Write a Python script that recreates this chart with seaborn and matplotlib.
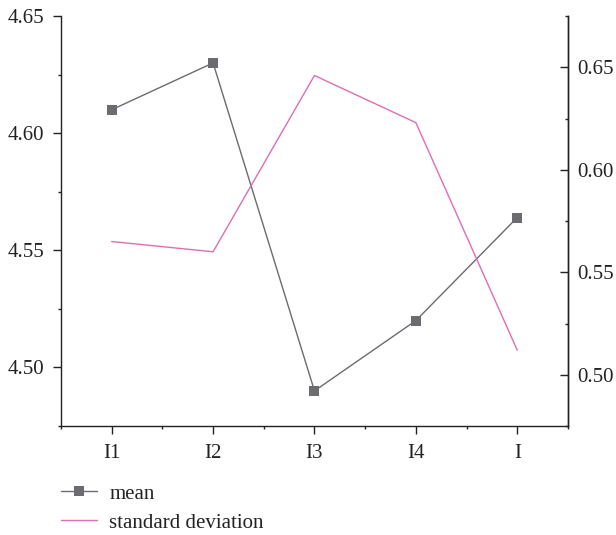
import matplotlib
matplotlib.use('Agg')
import matplotlib.pyplot as plt
import pandas as pd
import seaborn as sns
from matplotlib.ticker import MultipleLocator, FormatStrFormatter

# Data
items = ['I1', 'I2', 'I3', 'I4', 'I']
mean_vals = [4.610, 4.630, 4.490, 4.520, 4.564]
sd_vals = [0.565, 0.560, 0.646, 0.623, 0.512]

sns.set_theme(style='ticks')
plt.rcParams['font.family'] = ['Liberation Serif', 'DejaVu Serif']
plt.rcParams['font.size'] = 15

df = pd.DataFrame({'item': items, 'mean': mean_vals, 'sd': sd_vals})
df['pos'] = range(len(items))

fig = plt.figure(figsize=(6.16, 5.35), dpi=100)
ax = fig.add_axes([0.099, 0.2037, 0.823, 0.7663])
ax2 = ax.twinx()

sns.lineplot(data=df, x='pos', y='mean', ax=ax, color='#6b6b70', lw=1.0,
             marker='s', markersize=7, markeredgewidth=0, label='mean', legend=False)
sns.lineplot(data=df, x='pos', y='sd', ax=ax2, color='#dd6eb5', lw=1.0,
             label='standard deviation', legend=False)

ax.set_xlim(-0.5, len(items) - 0.5)
ax.set_xticks(df['pos'])
ax.set_xticklabels(items)
ax.xaxis.set_minor_locator(MultipleLocator(0.5))
ax.set_ylim(4.475, 4.65)
ax.yaxis.set_major_locator(MultipleLocator(0.05))
ax.yaxis.set_minor_locator(MultipleLocator(0.025))
ax.yaxis.set_major_formatter(FormatStrFormatter('%.2f'))
ax2.set_ylim(0.475, 0.675)
ax2.yaxis.set_major_locator(MultipleLocator(0.05))
ax2.yaxis.set_minor_locator(MultipleLocator(0.025))
ax2.yaxis.set_major_formatter(FormatStrFormatter('%.2f'))

for a in (ax, ax2):
    a.set_xlabel('')
    a.set_ylabel('')
    a.spines['top'].set_visible(False)
    for s in a.spines.values():
        s.set_color('#222222')
        s.set_linewidth(1.0)
    a.tick_params(which='major', length=6, width=1.0, color='#222222',
                  labelsize=15, labelcolor='#222222')
    a.tick_params(which='minor', length=2.5, width=1.0, color='#222222')
ax.tick_params(axis='y', which='major', pad=6)
ax.tick_params(axis='x', which='major', pad=7)
ax2.tick_params(axis='y', which='both', direction='in')
ax2.tick_params(axis='y', which='major', pad=7)
ax2.spines['left'].set_visible(False)
ax2.spines['bottom'].set_visible(False)

h1, l1 = ax.get_legend_handles_labels()
h2, l2 = ax2.get_legend_handles_labels()
fig.legend(h1 + h2, l1 + l2, loc='upper left', bbox_to_anchor=(0.069, 0.130),
           frameon=False, fontsize=15, handlelength=1.7, handletextpad=0.6,
           labelspacing=0.44, labelcolor='#222222')

fig.savefig('out.png', dpi=100)
